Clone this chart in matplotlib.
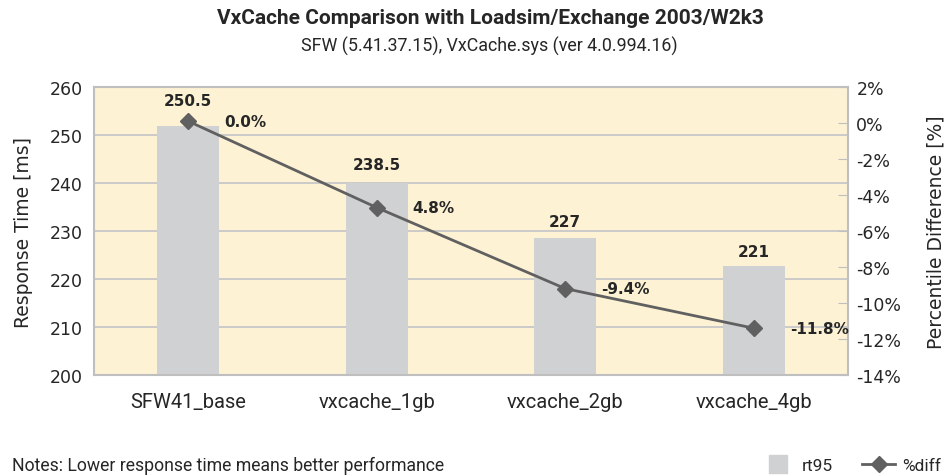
import matplotlib
matplotlib.use("Agg")
import matplotlib.pyplot as plt
from matplotlib.lines import Line2D
from matplotlib.ticker import FuncFormatter, MultipleLocator

categories = ["SFW41_base", "vxcache_1gb", "vxcache_2gb", "vxcache_4gb"]
rt95 = [251.8, 240.1, 228.6, 222.8]
rt95_labels = ["250.5", "238.5", "227", "221"]
pct_diff = [0.1, -4.7, -9.2, -11.4]
pct_labels = ["0.0%", "4.8%", "-9.4%", "-11.8%"]

COND = ["Roboto", "DejaVu Sans"]
SANS = ["DejaVu Sans"]
TXT = "#262626"
BAR = "#D0D1D3"
LINE = "#606060"

W, H = 948, 477
fig = plt.figure(figsize=(W / 100, H / 100), dpi=100)
ax = fig.add_axes([94 / W, 1 - 376 / H, (848 - 94) / W, (376 - 88) / H])
ax.set_facecolor("#FDF2D4")
x = list(range(len(categories)))
ax.bar(x, rt95, width=0.33, color=BAR, zorder=2)
ax.set_ylim(200, 260)
ax.set_xlim(-0.5, 3.5)
ax.yaxis.set_major_locator(MultipleLocator(10))
ax.grid(axis="y", color="#C4C4C8", linewidth=1.2, zorder=1)
ax.set_axisbelow(True)
for s in ax.spines.values():
    s.set_color("#BFBFBF")
    s.set_linewidth(1.5)
ax.tick_params(axis="y", length=0, labelsize=12.5, labelcolor=TXT, pad=8)
ax.tick_params(axis="x", length=0, pad=12)
ax.set_xticks(x)
ax.set_xticklabels(categories, fontsize=14.5, family=COND, color=TXT)
for lab in ax.get_yticklabels():
    lab.set_family(SANS)
ax.set_ylabel("Response Time [ms]", fontsize=13.5, family=SANS, color=TXT, labelpad=12)

offs = [26, 18, 16, 14]
for xi, v, lab, o in zip(x, rt95, rt95_labels, offs):
    ax.annotate(lab, (xi, v), xytext=(0, o * 0.72), textcoords="offset points",
                ha="center", va="center", fontsize=11, fontweight="bold",
                family=SANS, color=TXT, zorder=5)

ax2 = ax.twinx()
ax2.set_ylim(-14, 2)
ax2.yaxis.set_major_locator(MultipleLocator(2))
ax2.yaxis.set_major_formatter(FuncFormatter(lambda v, p: f"{v:.0f}%"))
ax2.tick_params(axis="y", direction="in", length=7, color="#BFBFBF", labelsize=12.5,
                labelcolor=TXT, pad=6)
for lab in ax2.get_yticklabels():
    lab.set_family(SANS)
for s in ax2.spines.values():
    s.set_visible(False)
ax2.plot(x, pct_diff, color=LINE, linewidth=2, marker="D", markersize=8.5,
         markeredgecolor=LINE, zorder=4)
for xi, v, lab in zip(x, pct_diff, pct_labels):
    ax2.annotate(lab, (xi, v), xytext=(36 * 0.72, 0), textcoords="offset points",
                 ha="left", va="center", fontsize=11, fontweight="bold",
                 family=SANS, color=TXT)
ax2.set_ylabel("Percentile Difference [%]", fontsize=13.5, family=SANS, color=TXT,
               labelpad=18)

fig.text(490 / W, 1 - 19 / H, "VxCache Comparison with Loadsim/Exchange 2003/W2k3",
         ha="center", va="center", fontsize=15, fontweight="bold", family=COND, color=TXT)
fig.text(489 / W, 1 - 46 / H, "SFW (5.41.37.15), VxCache.sys (ver 4.0.994.16)",
         ha="center", va="center", fontsize=12.9, family=COND, color=TXT)
fig.text(12 / W, 1 - 466 / H, "Notes: Lower response time means better performance",
         ha="left", va="center", fontsize=12.7, family=COND, color=TXT)

handles = [Line2D([0], [0], linestyle="none", marker="s", markersize=12.5,
                  color=BAR, markeredgecolor=BAR),
           Line2D([0], [0], color=LINE, linewidth=2, marker="D", markersize=8)]
fig.legend(handles, ["rt95", "%diff"], loc="center right",
           bbox_to_anchor=(1.0, 1 - 466 / H), ncol=2, frameon=False,
           prop={"family": COND, "size": 12.5}, handlelength=1.9, handletextpad=0.4,
           columnspacing=1.7, labelcolor=TXT, borderaxespad=0.0)

fig.savefig("out.png", dpi=100)
